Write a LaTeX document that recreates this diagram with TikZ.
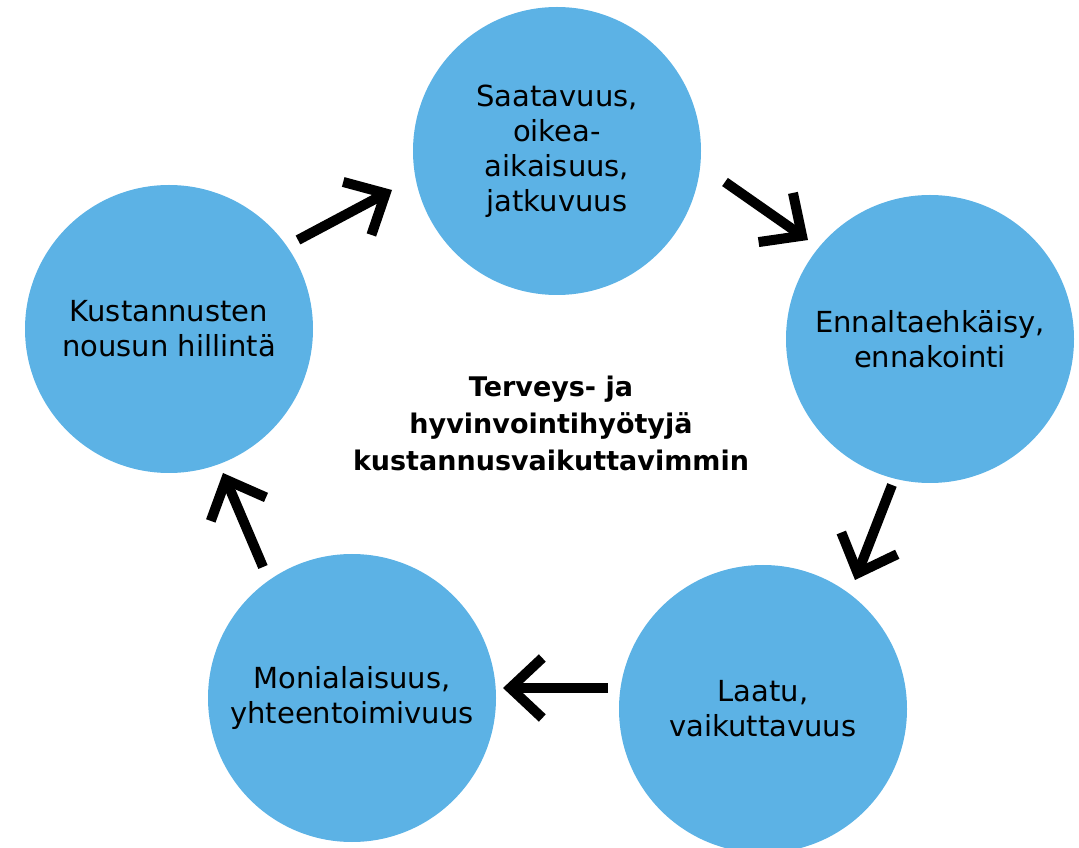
\documentclass[tikz,border=0pt]{standalone}
\usepackage{fontspec}
\setmainfont{DejaVu Sans}
\usetikzlibrary{arrows.meta}
\definecolor{bubblecol}{RGB}{92,178,229}
\begin{document}
\begin{tikzpicture}[x=0.75pt,y=-0.75pt,
  bubble/.style={circle, fill=bubblecol, minimum size=216pt, inner sep=0pt,
    align=center, font=\fontsize{21.75}{26.25}\selectfont},
  flow/.style={line width=7.5pt,
    -{Straight Barb[sharp, length=24pt, width=45pt]}},
  core/.style={align=center, font=\bfseries\fontsize{20.25}{27.75}\selectfont}]
\useasboundingbox (0,0) rectangle (1079,848);

% the five circles of the cycle
\node[bubble] (avail) at (557,151) {Saatavuus,\\oikea-\\aikaisuus,\\jatkuvuus};
\node[bubble] (prev)  at (930,339) {Ennaltaehkäisy,\\ennakointi};
\node[bubble] (qual)  at (763,709) {Laatu,\\vaikuttavuus};
\node[bubble] (multi) at (352,698) {Monialaisuus,\\yhteentoimivuus};
\node[bubble] (cost)  at (169,329) {Kustannusten\\nousun hillintä};

% centre caption
\node[core] (goal) at (551,423) {Terveys- ja\\hyvinvointihyötyjä\\kustannusvaikuttavimmin};

% arrow end points between the circles
\coordinate (a1s) at (298,240); \coordinate (a1e) at (392,190);
\coordinate (a2s) at (725,182); \coordinate (a2e) at (808,240);
\coordinate (a3s) at (892,485); \coordinate (a3e) at (855,580);
\coordinate (a4s) at (608,688); \coordinate (a4e) at (503,688);
\coordinate (a5s) at (263,567); \coordinate (a5e) at (223,473);

\draw[flow] (a1s) -- (a1e);
\draw[flow] (a2s) -- (a2e);
\draw[flow] (a3s) -- (a3e);
\draw[flow] (a4s) -- (a4e);
\draw[flow] (a5s) -- (a5e);
\end{tikzpicture}
\end{document}
